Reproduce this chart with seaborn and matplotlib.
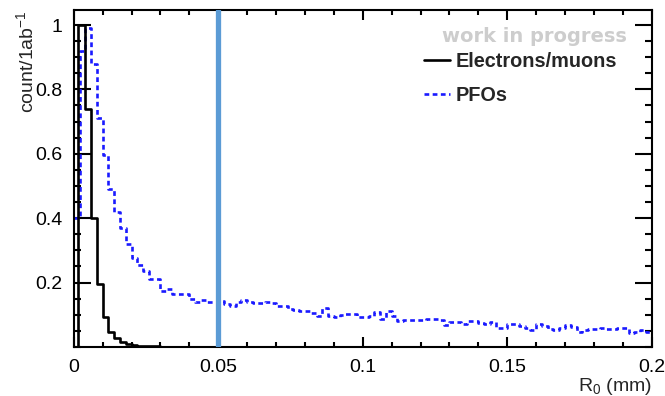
import numpy as np
import pandas as pd
import matplotlib
matplotlib.use("Agg")
import matplotlib.pyplot as plt
from matplotlib.lines import Line2D
from matplotlib.ticker import MultipleLocator, FixedLocator, FixedFormatter
import seaborn as sns

# ---- data: normalised R0 distributions (mm) ----
r0_min, r0_max = 0.0, 0.2

# electrons/muons: bin edges and per-bin content
lepton_edges = [
    0.0, 0.0014, 0.004, 0.006, 0.008, 0.010, 0.012, 0.014, 0.016, 0.018,
    0.020, 0.022, 0.024, 0.026, 0.028, 0.030, 0.032, 0.034, 0.036, 0.038,
    0.040, 0.042, 0.044, 0.046, 0.048, 0.050,
]
lepton_counts = [
    0.0, 1.00, 0.74, 0.40, 0.195, 0.094, 0.047, 0.028, 0.016, 0.009,
    0.006, 0.004, 0.003, 0.002, 0.0015, 0.001, 0.0008, 0.0006, 0.0005, 0.0004,
    0.0003, 0.0002, 0.0002, 0.0001, 0.0001,
]

# PFOs: 100 bins of 0.002 mm from 0 to 0.2 mm
pfo_bin_width = 0.002
pfo_counts = [
    0.40, 0.92, 0.99, 0.88, 0.71, 0.595, 0.49, 0.42, 0.37, 0.32,
    0.277, 0.255, 0.237, 0.212, 0.212, 0.175, 0.18, 0.165, 0.165, 0.165,
    0.15, 0.14, 0.145, 0.14, 0.14, 0.143, 0.134, 0.128, 0.14, 0.145,
    0.14, 0.135, 0.135, 0.14, 0.135, 0.128, 0.128, 0.118, 0.115, 0.113,
    0.112, 0.105, 0.097, 0.12, 0.095, 0.094, 0.10, 0.102, 0.102, 0.094,
    0.094, 0.097, 0.107, 0.087, 0.11, 0.097, 0.081, 0.083, 0.085, 0.085,
    0.085, 0.087, 0.087, 0.083, 0.068, 0.078, 0.078, 0.07, 0.081, 0.081,
    0.075, 0.07, 0.078, 0.058, 0.058, 0.07, 0.07, 0.065, 0.058, 0.053,
    0.07, 0.065, 0.055, 0.053, 0.058, 0.068, 0.062, 0.047, 0.053, 0.055,
    0.055, 0.058, 0.055, 0.055, 0.06, 0.058, 0.044, 0.047, 0.053, 0.047,
]

r0_cut = 0.05

series_labels = ["Electrons/muons", "PFOs"]
x_tick_values = [0.0, 0.05, 0.1, 0.15, 0.2]
x_tick_labels = ["0", "0.05", "0.1", "0.15", "0.2"]
y_tick_values = [0.2, 0.4, 0.6, 0.8, 1.0]
y_tick_labels = ["0.2", "0.4", "0.6", "0.8", "1"]


def histogram_frame(edges, counts):
    edges = np.asarray(edges, dtype=float)
    centers = 0.5 * (edges[:-1] + edges[1:])
    return pd.DataFrame({"r0": centers, "count": counts}), edges.tolist()


sns.set_theme(style="ticks")
plt.rcParams["font.family"] = ["Liberation Sans", "DejaVu Sans"]
plt.rcParams["mathtext.default"] = "regular"

fig = plt.figure(figsize=(6.65, 3.96), dpi=100)
ax = fig.add_axes([0.111, 0.124, 0.869, 0.851])

pfo_edges_all = r0_min + pfo_bin_width * np.arange(len(pfo_counts) + 1)
pfo_df, pfo_edges = histogram_frame(pfo_edges_all, pfo_counts)
lep_df, lep_edges = histogram_frame(lepton_edges, lepton_counts)

pfo_color = "#1a1aff"
pfo_dash = (0, (1.8, 1.3))

sns.histplot(data=pfo_df, x="r0", weights="count", bins=pfo_edges,
             element="step", fill=False, color=pfo_color,
             linewidth=1.9, linestyle=pfo_dash, ax=ax)
sns.histplot(data=lep_df, x="r0", weights="count", bins=lep_edges,
             element="step", fill=False, color="black",
             linewidth=1.9, ax=ax)

ax.axvline(r0_cut, color="#5b9bd5", linewidth=3.8, zorder=5)

ax.set_xlim(r0_min, r0_max)
ax.set_ylim(0, 1.047)

ax.xaxis.set_major_locator(FixedLocator(x_tick_values))
ax.xaxis.set_major_formatter(FixedFormatter(x_tick_labels))
ax.xaxis.set_minor_locator(MultipleLocator(0.01))
ax.yaxis.set_major_locator(FixedLocator(y_tick_values))
ax.yaxis.set_major_formatter(FixedFormatter(y_tick_labels))
ax.yaxis.set_minor_locator(MultipleLocator(0.05))

ax.tick_params(axis="both", which="both", direction="in", top=True, right=True,
               width=1.5, colors="black", labelsize=14)
ax.tick_params(axis="x", which="major", length=7, pad=9)
ax.tick_params(axis="x", which="minor", length=3.5)
ax.tick_params(axis="y", which="major", length=12, pad=8)
ax.tick_params(axis="y", which="minor", length=5)

for spine in ax.spines.values():
    spine.set_linewidth(1.5)
    spine.set_color("black")

ax.set_xlabel("R$_0$ (mm)", loc="right", fontsize=14, labelpad=0)
ax.set_ylabel("count/1ab$^{-1}$", loc="top", fontsize=14, labelpad=-1)

ax.text(0.957, 0.92, "work in progress", transform=ax.transAxes,
        ha="right", va="center", fontsize=14, fontweight="bold",
        color="#cdcdcd", family="DejaVu Sans")

handles = [
    Line2D([], [], color="black", linewidth=1.9),
    Line2D([], [], color=pfo_color, linewidth=1.9, linestyle=pfo_dash),
]
ax.legend(handles, series_labels, loc="upper left",
          bbox_to_anchor=(0.606, 0.874), frameon=False,
          prop={"weight": "bold", "size": 14.3},
          handlelength=1.3, handletextpad=0.3, labelspacing=0.75,
          borderaxespad=0, borderpad=0)

fig.savefig("out.png", dpi=100, facecolor="white")
